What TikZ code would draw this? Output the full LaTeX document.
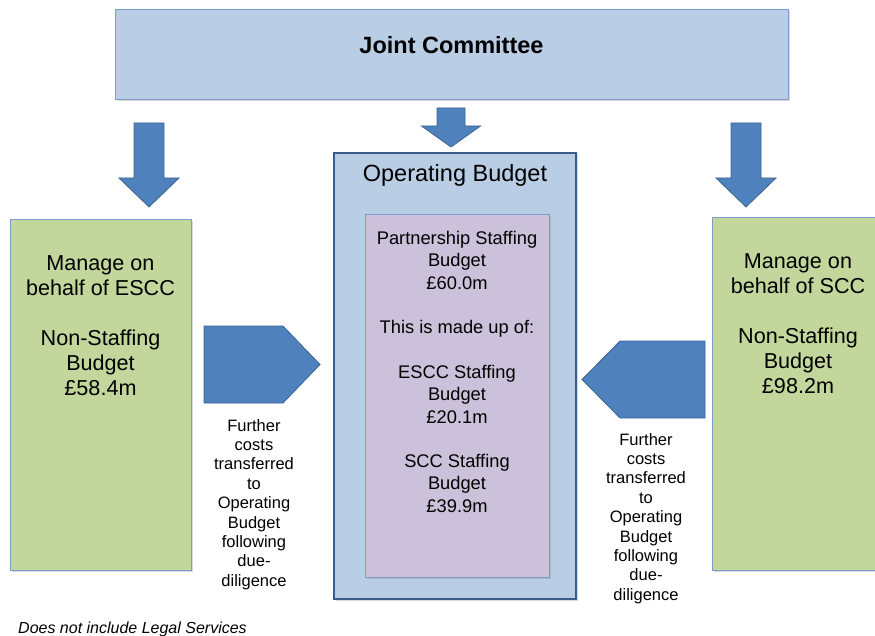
\documentclass[tikz,border=0pt]{standalone}
\usepackage{fontspec}
\setmainfont{Liberation Sans}
\usetikzlibrary{positioning,shadows}

\definecolor{boxblue}{HTML}{B9CDE5}
\definecolor{edgeblue}{HTML}{7F9DCA}
\definecolor{darkedge}{HTML}{385D8A}
\definecolor{budgetgreen}{HTML}{C3D69B}
\definecolor{staffpurple}{HTML}{CCC1DA}
\definecolor{arrowblue}{HTML}{4F81BD}
\definecolor{arrowline}{HTML}{3A6594}

\tikzset{
  panel/.style={draw=edgeblue, line width=1pt, inner sep=0pt,
    drop shadow={shadow xshift=1.5pt, shadow yshift=-1.5pt, opacity=0.3}},
  blockarrow/.style={draw=arrowline, fill=arrowblue, line width=0.8pt, line join=miter},
  bigtext/.style={align=center, inner sep=0pt, anchor=north,
    font=\fontsize{21.6}{25}\selectfont},
  stafftext/.style={align=center, inner sep=0pt, anchor=north,
    font=\fontsize{18.3}{22.3}\selectfont},
  notetext/.style={align=center, inner sep=0pt, anchor=north,
    font=\fontsize{16.5}{19.4}\selectfont}
}

\begin{document}
\begin{tikzpicture}[x=1pt, y=-1pt]
  \useasboundingbox (0,0) rectangle (875,636);

  % top box
  \node[panel, fill=boxblue, minimum width=673pt, minimum height=90pt] (jc) at (451.5,55) {};
  \node[inner sep=0pt, font=\fontsize{23.5}{27}\selectfont\bfseries] (jctext) at (451.5,45) {Joint Committee};

  % arrows down
  \draw[blockarrow] (134,123) -- (164,123) -- (164,178) -- (179,178) -- (149,207)
    -- (119,178) -- (134,178) -- cycle;
  \draw[blockarrow] (437,108) -- (465,108) -- (465,126) -- (480.5,126) -- (451,147)
    -- (421.5,126) -- (437,126) -- cycle;
  \draw[blockarrow] (731,123) -- (761,123) -- (761,178) -- (776,178) -- (746,207)
    -- (716,178) -- (731,178) -- cycle;

  % operating budget
  \node[panel, draw=darkedge, line width=1.6pt, fill=boxblue, minimum width=242pt, minimum height=446pt] (opbox) at (455,376) {};
  \node[inner sep=0pt, anchor=base, font=\fontsize{23.5}{27}\selectfont] (optext) at (455,181.5) {Operating Budget};
  \node[panel, fill=staffpurple, minimum width=184pt, minimum height=362pt] (staffbox) at (457,396) {};
  \node[stafftext] (stafftxt) at (457,231.2) {Partnership Staffing\\Budget\\£60.0m\\[22.3pt]This is made up of:\\[22.3pt]ESCC Staffing\\Budget\\£20.1m\\[22.3pt]SCC Staffing\\Budget\\£39.9m};

  % non-staffing budgets
  \node[panel, fill=budgetgreen, minimum width=181pt, minimum height=350pt] (esccbox) at (100.5,395) {};
  \node[bigtext] (escctxt) at (100.5,255) {Manage on\\behalf of ESCC\\[25pt]Non-Staffing\\Budget\\£58.4m};
  \node[panel, fill=budgetgreen, minimum width=170pt, minimum height=352pt] (sccbox) at (797,394) {};
  \node[bigtext] (scctxt) at (798,253) {Manage on\\behalf of SCC\\[25pt]Non-Staffing\\Budget\\£98.2m};

  % transfers
  \draw[blockarrow] (204,326) -- (283,326) -- (320,364.5) -- (283,403) -- (204,403) -- cycle;
  \draw[blockarrow] (705,341) -- (620,341) -- (582,379.5) -- (620,418) -- (705,418) -- cycle;
  \node[notetext] (noteL) at (254,418.9) {Further\\costs\\transferred\\to\\Operating\\Budget\\following\\due-\\diligence};
  \node[notetext] (noteR) at (646,432.9) {Further\\costs\\transferred\\to\\Operating\\Budget\\following\\due-\\diligence};

  \node[inner sep=0pt, anchor=base west, font=\fontsize{16}{19}\selectfont\itshape] (legal) at (18,633) {Does not include Legal Services};
\end{tikzpicture}
\end{document}
